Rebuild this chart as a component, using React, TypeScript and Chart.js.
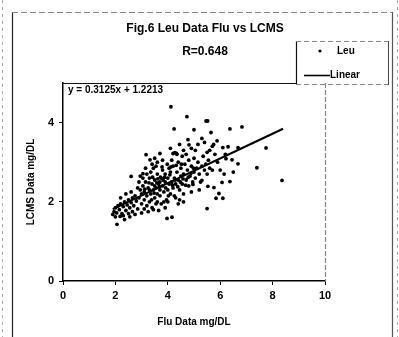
import React, { useEffect, useRef } from "react";
import { Chart, registerables } from "chart.js";

Chart.register(...registerables);

const chartTitle = "Fig.6 Leu Data Flu vs LCMS";
const chartSubtitle = "R=0.648";
const xAxisTitle = "Flu Data mg/DL";
const yAxisTitle = "LCMS Data mg/DL";
const seriesName = "Leu";
const trendName = "Linear";
const equationText = "y = 0.3125x + 1.2213";
const trendSlope = 0.3125;
const trendIntercept = 1.2213;
const trendXRange = [1.9, 8.4];
const xTicks = [0, 2, 4, 6, 8, 10];
const yTicks = [0, 2, 4];

// [Flu, LCMS] pairs
const leuPoints: [number, number][] = [
  [1.95, 1.75], [2.0, 1.85], [2.05, 1.72], [2.1, 1.9], [2.15, 1.8], [2.2, 1.95],
  [2.25, 1.7], [2.3, 1.88], [2.35, 2.0], [2.4, 1.78], [2.45, 1.92], [2.5, 2.05],
  [2.55, 1.85], [2.6, 1.98], [2.65, 2.1], [2.7, 1.9], [2.75, 2.15], [2.8, 2.02],
  [2.3, 1.65], [2.5, 1.7], [2.65, 1.75], [2.85, 1.82], [2.2, 2.1], [2.4, 2.2],
  [2.6, 2.25], [2.0, 1.62], [1.9, 1.68], [2.18, 1.63], [2.06, 1.43], [2.35, 1.55],
  [2.55, 1.62], [2.75, 1.68],
  [2.9, 2.1], [2.95, 2.3], [3.0, 1.95], [3.0, 2.2], [3.05, 2.4], [3.1, 2.05],
  [3.1, 2.25], [3.15, 2.5], [3.2, 1.9], [3.2, 2.15], [3.25, 2.35], [3.3, 2.6],
  [3.3, 2.0], [3.35, 2.2], [3.4, 2.45], [3.4, 1.85], [3.45, 2.3], [3.5, 2.1],
  [3.5, 2.55], [3.55, 2.35], [3.6, 2.0], [3.6, 2.2], [3.6, 2.7], [3.65, 2.45],
  [3.7, 2.15], [3.7, 2.3], [3.75, 2.6], [3.75, 1.95], [3.8, 2.4], [3.8, 2.8],
  [2.9, 2.5], [3.05, 2.6], [3.2, 2.7], [3.35, 2.75], [3.45, 2.85], [3.55, 2.9],
  [3.25, 1.75], [3.45, 1.8], [3.65, 1.78], [3.0, 1.72], [2.95, 2.65], [3.15, 2.85],
  [3.1, 1.82], [3.3, 2.3], [3.5, 2.4], [3.7, 2.5], [3.85, 2.25], [3.9, 2.5],
  [3.95, 2.05], [2.85, 2.35], [3.55, 1.95], [3.85, 2.0], [3.9, 2.7], [3.9, 1.85],
  [3.42, 2.62], [3.62, 2.58], [3.28, 2.48], [3.12, 2.32], [3.38, 2.05], [3.68, 2.38],
  [3.05, 2.71], [3.17, 3.19], [3.32, 3.06], [3.7, 3.22], [3.4, 2.95], [3.6, 3.0],
  [3.8, 3.05], [2.6, 2.64], [3.5, 3.1],
  [4.0, 2.3], [4.0, 2.6], [4.05, 2.45], [4.1, 2.2], [4.1, 2.75], [4.15, 2.5],
  [4.2, 2.35], [4.2, 2.9], [4.25, 2.6], [4.3, 2.1], [4.3, 2.45], [4.35, 2.75],
  [4.4, 2.55], [4.4, 3.0], [4.45, 2.3], [4.5, 2.65], [4.5, 2.85], [4.55, 2.45],
  [4.6, 2.7], [4.6, 2.2], [4.65, 2.95], [4.7, 2.55], [4.75, 2.8], [4.8, 2.4],
  [4.8, 3.05], [4.85, 2.65], [4.9, 2.9], [4.95, 2.5], [5.0, 2.75], [5.0, 3.1],
  [4.05, 2.85], [4.15, 3.05], [4.25, 2.15], [4.45, 2.05], [4.55, 3.15], [4.7, 3.2],
  [4.35, 3.2], [4.2, 3.22], [4.27, 3.24], [4.33, 3.22], [3.97, 1.58], [4.16, 1.61],
  [4.0, 2.0], [4.4, 1.95], [4.6, 2.0], [4.9, 2.25], [4.12, 4.4], [4.73, 4.15],
  [4.24, 3.84], [4.81, 3.44], [4.77, 3.57], [4.6, 3.3], [4.9, 3.35], [4.1, 3.35],
  [4.45, 3.45],
  [3.72, 2.62], [3.82, 2.55], [3.92, 2.35], [4.02, 2.15], [4.08, 2.68], [4.18, 2.42],
  [4.28, 2.55], [4.38, 2.38], [4.48, 2.5], [4.58, 2.58], [4.68, 2.42], [4.78, 2.62],
  [4.88, 2.72], [4.98, 2.85], [3.58, 2.48], [3.48, 2.22], [3.88, 2.62], [4.12, 2.88],
  [4.32, 2.92], [4.52, 2.95], [3.78, 2.88], [3.98, 2.95],
  [5.05, 2.6], [5.1, 2.85], [5.15, 3.0], [5.2, 2.7], [5.25, 2.5], [5.3, 2.9],
  [5.3, 2.54], [5.35, 3.15], [5.4, 2.8], [5.45, 2.95], [5.5, 2.7], [5.5, 3.25],
  [5.55, 3.05], [5.6, 2.85], [5.65, 3.75], [5.46, 4.04], [5.52, 4.04], [5.0, 3.82],
  [5.88, 3.54], [5.7, 3.4], [5.75, 3.45], [5.6, 3.3], [5.8, 3.2], [5.9, 3.0],
  [5.53, 2.39], [5.76, 2.36], [5.95, 2.21], [5.84, 2.09], [6.1, 2.09], [5.5, 1.83],
  [4.96, 2.44], [5.2, 2.3], [5.4, 3.5], [5.3, 3.6], [5.7, 2.8], [5.05, 3.3],
  [5.15, 3.45],
  [6.37, 3.84], [6.83, 3.89], [7.75, 3.36], [7.4, 2.86], [8.36, 2.54], [6.68, 2.96],
  [6.45, 3.06], [6.22, 3.09], [6.3, 3.39], [6.1, 3.37], [6.68, 3.37], [6.37, 2.51],
  [6.07, 2.49], [6.0, 2.8], [6.15, 2.7], [6.5, 2.75], [6.2, 3.2],
];

const FONT = "'Liberation Sans', Arial, sans-serif";

const decorPlugin = {
  id: "decor",
  beforeDraw(chart: any) {
    const ctx = chart.ctx;
    ctx.save();
    ctx.fillStyle = "#fff";
    ctx.fillRect(0, 0, chart.width, chart.height);
    ctx.strokeStyle = "#222";
    ctx.lineWidth = 1.2;
    ctx.beginPath();
    ctx.moveTo(12.5, 12);
    ctx.lineTo(12.5, 337);
    ctx.stroke();
    ctx.strokeStyle = "#555";
    ctx.beginPath();
    ctx.moveTo(392.5, 12);
    ctx.lineTo(392.5, 337);
    ctx.stroke();
    ctx.strokeStyle = "#888";
    ctx.lineWidth = 1;
    ctx.setLineDash([6, 3]);
    ctx.beginPath();
    ctx.moveTo(12, 12.5);
    ctx.lineTo(392, 12.5);
    ctx.stroke();
    ctx.setLineDash([3, 4]);
    ctx.strokeStyle = "#aaa";
    ctx.beginPath();
    ctx.moveTo(2.5, 0);
    ctx.lineTo(2.5, 337);
    ctx.moveTo(397.5, 0);
    ctx.lineTo(397.5, 337);
    ctx.stroke();
    ctx.restore();
  },
  afterDraw(chart: any) {
    const ctx = chart.ctx;
    const area = chart.chartArea;
    ctx.save();
    ctx.strokeStyle = "#111";
    ctx.lineWidth = 1.2;
    ctx.beginPath();
    ctx.moveTo(area.left, area.top + 0.5);
    ctx.lineTo(296, area.top + 0.5);
    ctx.stroke();
    ctx.strokeStyle = "#888";
    ctx.setLineDash([5, 2]);
    ctx.beginPath();
    ctx.moveTo(area.right + 0.5, area.top);
    ctx.lineTo(area.right + 0.5, area.bottom);
    ctx.stroke();
    ctx.setLineDash([]);

    ctx.fillStyle = "#000";
    ctx.textAlign = "center";
    ctx.textBaseline = "middle";
    ctx.font = `bold 12px ${FONT}`;
    ctx.fillText(chartTitle, 205, 29);
    ctx.fillText(chartSubtitle, 205, 52);

    ctx.textAlign = "left";
    ctx.font = `bold 10px ${FONT}`;
    ctx.fillText(equationText, 68, 90);

    ctx.strokeStyle = "#111";
    ctx.lineWidth = 1.2;
    ctx.beginPath();
    ctx.moveTo(296.5, 41);
    ctx.lineTo(296.5, 84);
    ctx.stroke();
    ctx.strokeStyle = "#888";
    ctx.lineWidth = 1;
    ctx.setLineDash([5, 3]);
    ctx.beginPath();
    ctx.moveTo(296, 41.5);
    ctx.lineTo(388, 41.5);
    ctx.moveTo(296, 84.5);
    ctx.lineTo(388, 84.5);
    ctx.stroke();
    ctx.setLineDash([]);
    ctx.strokeStyle = "#444";
    ctx.beginPath();
    ctx.moveTo(388.5, 41);
    ctx.lineTo(388.5, 85);
    ctx.stroke();

    ctx.fillStyle = "#000";
    ctx.beginPath();
    ctx.arc(320, 51, 1.6, 0, Math.PI * 2);
    ctx.fill();
    ctx.font = `bold 10px ${FONT}`;
    ctx.fillText(seriesName, 337, 51);
    ctx.strokeStyle = "#000";
    ctx.lineWidth = 1.6;
    ctx.beginPath();
    ctx.moveTo(304, 75.5);
    ctx.lineTo(330, 75.5);
    ctx.stroke();
    ctx.fillText(trendName, 330, 75);
    ctx.restore();
  },
};

export default function App() {
  const canvasRef = useRef<HTMLCanvasElement | null>(null);

  useEffect(() => {
    document.body.style.margin = "0";
    const canvas = canvasRef.current;
    if (!canvas) return;
    const trendData = trendXRange.map((x) => ({ x, y: trendSlope * x + trendIntercept }));
    const chart = new Chart(canvas, {
      type: "scatter",
      data: {
        datasets: [
          {
            label: seriesName,
            data: leuPoints.map(([x, y]) => ({ x, y })),
            backgroundColor: "#000",
            borderColor: "#000",
            borderWidth: 0,
            pointRadius: 1.9,
            pointHoverRadius: 1.9,
          },
          {
            label: trendName,
            type: "line",
            data: trendData,
            borderColor: "#000",
            borderWidth: 2.2,
            pointRadius: 0,
            fill: false,
          } as any,
        ],
      },
      options: {
        animation: false,
        responsive: false,
        devicePixelRatio: 1,
        layout: { padding: { left: 12, right: 74, top: 83, bottom: 8 } },
        plugins: {
          legend: { display: false },
          title: { display: false },
          tooltip: { enabled: false },
        },
        scales: {
          x: {
            type: "linear",
            min: 0,
            max: 10,
            afterBuildTicks: (scale: any) => {
              scale.ticks = xTicks.map((value) => ({ value }));
            },
            afterFit: (scale: any) => {
              scale.height = 48;
            },
            grid: {
              drawOnChartArea: false,
              drawTicks: true,
              tickLength: 4,
              color: "#000",
            },
            border: { display: true, color: "#000", width: 1.5 },
            ticks: {
              color: "#000",
              padding: 4,
              maxRotation: 0,
              font: { family: FONT, size: 11, weight: "bold" },
            },
            title: {
              display: true,
              text: xAxisTitle,
              color: "#000",
              padding: { top: 0, bottom: 1 },
              font: { family: FONT, size: 10, weight: "bold" },
            },
          },
          y: {
            type: "linear",
            min: 0,
            max: 5,
            afterBuildTicks: (scale: any) => {
              scale.ticks = yTicks.map((value) => ({ value }));
            },
            afterFit: (scale: any) => {
              scale.width = 51;
            },
            grid: {
              drawOnChartArea: false,
              drawTicks: true,
              tickLength: 4,
              color: "#000",
            },
            border: { display: true, color: "#000", width: 1.5 },
            ticks: {
              color: "#000",
              padding: 5,
              font: { family: FONT, size: 11, weight: "bold" },
            },
            title: {
              display: true,
              text: yAxisTitle,
              color: "#000",
              padding: { top: 13, bottom: 0 },
              font: { family: FONT, size: 10, weight: "bold" },
            },
          },
        },
      },
      plugins: [decorPlugin],
    });
    return () => chart.destroy();
  }, []);

  return (
    <div style={{ position: "absolute", left: 0, top: 0, width: 399, height: 337 }}>
      <canvas ref={canvasRef} width={399} height={337} style={{ width: 399, height: 337 }} />
    </div>
  );
}
